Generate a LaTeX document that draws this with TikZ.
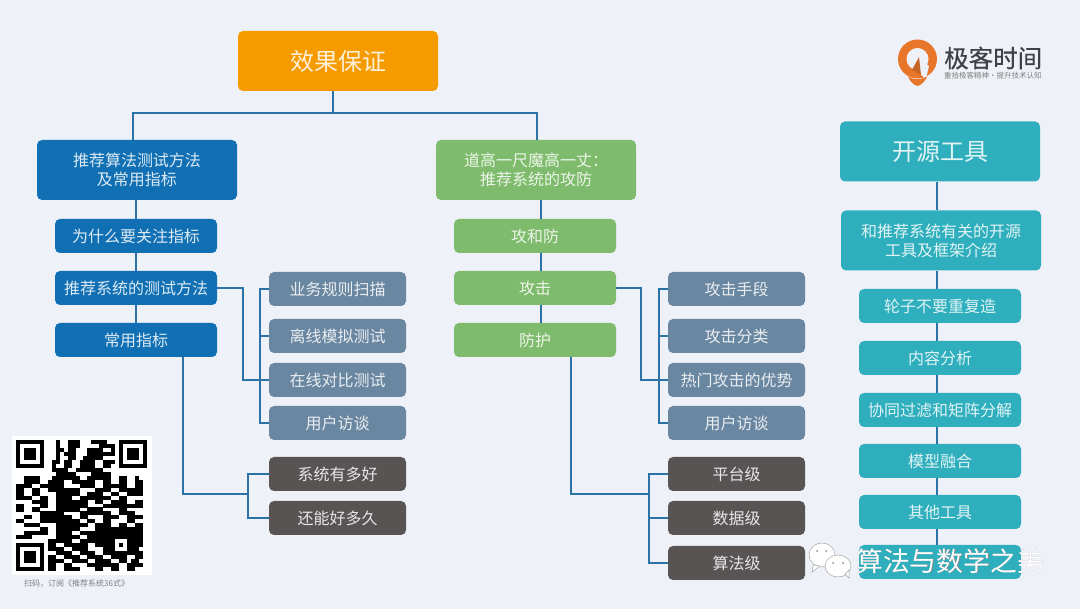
\documentclass[tikz,border=0pt]{standalone}
\usepackage{fontspec}
\setmainfont{Noto Sans CJK SC}
\definecolor{bgc}{HTML}{EEF1F7}
\definecolor{linkc}{HTML}{2B72A6}
\definecolor{orangec}{HTML}{F59B00}
\definecolor{bluec}{HTML}{1170B3}
\definecolor{greenc}{HTML}{7FBB6C}
\definecolor{tealc}{HTML}{2FAFBD}
\definecolor{slatec}{HTML}{6A87A1}
\definecolor{darkc}{HTML}{585454}
\definecolor{logoc}{HTML}{E8762A}
\definecolor{logot}{HTML}{3D4249}
\newcount\qrx
\def\qrscan#1{\ifx#1\relax\else\if#11\fill[black] ({16+3.97*\the\qrx},{440+3.97*\qrrowno}) rectangle ++(4.02,4.02);\fi\advance\qrx by 1 \expandafter\qrscan\fi}
\def\qrr#1#2{\def\qrrowno{#1}\qrx=0 \qrscan#2\relax}
\def\qrfinder#1#2{%
  \fill[white] ({16+3.97*(#1)-3.97},{440+3.97*(#2)-3.97}) rectangle ++(35.73,35.73);
  \fill[black] ({16+3.97*(#1)},{440+3.97*(#2)}) rectangle ++(27.8,27.8);
  \fill[white] ({16+3.97*(#1+1)},{440+3.97*(#2+1)}) rectangle ++(19.85,19.85);
  \fill[black] ({16+3.97*(#1+2)},{440+3.97*(#2+2)}) rectangle ++(11.91,11.91);}
\tikzset{
  boxbase/.style={rounded corners=5pt,inner sep=0pt,align=center,text=white,text opacity=.85},
  bigbox/.style={boxbase,minimum width=200pt,minimum height=60pt},
  midbox/.style={boxbase,minimum width=162pt,minimum height=34pt},
  subbox/.style={boxbase,minimum width=137pt,minimum height=34pt},
  hugetext/.style={font=\fontsize{24}{28}\selectfont},
  normtext/.style={font=\fontsize{16}{19}\selectfont},
  link/.style={draw=linkc,line width=2pt},
}
\begin{document}
\begin{tikzpicture}[x=1pt,y=-1pt]
\useasboundingbox (0,0) rectangle (1080,609);
\fill[bgc] (0,0) rectangle (1080,609);
\coordinate (bus) at (333,113);
\coordinate (busl) at (133,113);
\coordinate (busr) at (537,113);
\coordinate (lx) at (136,0);
\coordinate (gx) at (541,0);
\coordinate (tx) at (937,0);
\coordinate (ltest) at (243,288);
\coordinate (ltrunk) at (260,0);
\coordinate (lmet) at (183,494);
\coordinate (lmtrunk) at (248,0);
\coordinate (gatk) at (641,288);
\coordinate (gtrunk) at (659,0);
\coordinate (gdef) at (571,494);
\coordinate (gdtrunk) at (649,0);

% boxes
\node[bigbox,fill=orangec,hugetext,name=top] at (338,61) {效果保证};
\node[bigbox,fill=bluec,normtext,name=L] at (137,170) {推荐算法测试方法\\及常用指标};
\node[bigbox,fill=greenc,normtext,name=G] at (536,170) {道高一尺魔高一丈：\\推荐系统的攻防};
\node[bigbox,fill=tealc,hugetext,name=T] at (940,151.5) {开源工具};
\node[bigbox,fill=tealc,normtext,minimum width=200pt,name=T1] at (941,240.5) {和推荐系统有关的开源\\工具及框架介绍};

\node[midbox,fill=bluec,normtext,name=L1] at (136,236) {为什么要关注指标};
\node[midbox,fill=bluec,normtext,name=L2] at (136,288) {推荐系统的测试方法};
\node[midbox,fill=bluec,normtext,name=L3] at (136,340) {常用指标};
\node[midbox,fill=greenc,normtext,name=G1] at (535,236) {攻和防};
\node[midbox,fill=greenc,normtext,name=G2] at (535,288) {攻击};
\node[midbox,fill=greenc,normtext,name=G3] at (535,340) {防护};

\node[subbox,fill=slatec,normtext,name=A1] at (337.5,289) {业务规则扫描};
\node[subbox,fill=slatec,normtext,name=A2] at (337.5,336) {离线模拟测试};
\node[subbox,fill=slatec,normtext,name=A3] at (337.5,380) {在线对比测试};
\node[subbox,fill=slatec,normtext,name=A4] at (337.5,423) {用户访谈};
\node[subbox,fill=darkc,normtext,name=D1] at (337.5,474) {系统有多好};
\node[subbox,fill=darkc,normtext,name=D2] at (337.5,518) {还能好多久};

\node[subbox,fill=slatec,normtext,name=B1] at (736.5,289) {攻击手段};
\node[subbox,fill=slatec,normtext,name=B2] at (736.5,336) {攻击分类};
\node[subbox,fill=slatec,normtext,name=B3] at (736.5,380) {热门攻击的优势};
\node[subbox,fill=slatec,normtext,name=B4] at (736.5,423) {用户访谈};
\node[subbox,fill=darkc,normtext,name=E1] at (736.5,474) {平台级};
\node[subbox,fill=darkc,normtext,name=E2] at (736.5,518) {数据级};
\node[subbox,fill=darkc,normtext,name=E3] at (736.5,563) {算法级};

\node[midbox,fill=tealc,normtext,name=T2] at (940,306) {轮子不要重复造};
\node[midbox,fill=tealc,normtext,name=T3] at (940,358) {内容分析};
\node[midbox,fill=tealc,normtext,name=T4] at (940,410) {协同过滤和矩阵分解};
\node[midbox,fill=tealc,normtext,name=T5] at (940,461) {模型融合};
\node[midbox,fill=tealc,normtext,name=T6] at (940,512) {其他工具};
\node[midbox,fill=tealc,normtext,name=T7] at (940,562) {};

% connectors
\draw[link] (top.south -| bus) -- (bus);
\draw[link] (busl |- L.north) -- (busl) -- (busr) -- (busr |- G.north);
\draw[link] (lx |- L.south) -- (lx |- L1.north);
\draw[link] (lx |- L1.south) -- (lx |- L2.north);
\draw[link] (lx |- L2.south) -- (lx |- L3.north);
\draw[link] (gx |- G.south) -- (gx |- G1.north);
\draw[link] (gx |- G1.south) -- (gx |- G2.north);
\draw[link] (gx |- G2.south) -- (gx |- G3.north);
\draw[link] (tx |- T.south) -- (tx |- T1.north);
\draw[link] (tx |- T1.south) -- (tx |- T2.north);
\draw[link] (tx |- T2.south) -- (tx |- T3.north);
\draw[link] (tx |- T3.south) -- (tx |- T4.north);
\draw[link] (tx |- T4.south) -- (tx |- T5.north);
\draw[link] (tx |- T5.south) -- (tx |- T6.north);
\draw[link] (tx |- T6.south) -- (tx |- T7.north);
\draw[link] (L2.east) -- (ltest) -- (ltest |- A3.west) -- (A3.west);
\draw[link] (A1.west) -- (ltrunk |- A1.west) -- (ltrunk |- A4.west) -- (A4.west);
\draw[link] (A2.west) -- (ltrunk |- A2.west);
\draw[link] (lmet |- L3.south) -- (lmet) -- (lmtrunk |- lmet);
\draw[link] (D1.west) -- (lmtrunk |- D1.west) -- (lmtrunk |- D2.west) -- (D2.west);
\draw[link] (G2.east) -- (gatk) -- (gatk |- B3.west) -- (B3.west);
\draw[link] (B1.west) -- (gtrunk |- B1.west) -- (gtrunk |- B4.west) -- (B4.west);
\draw[link] (B2.west) -- (gtrunk |- B2.west);
\draw[link] (gdef |- G3.south) -- (gdef) -- (gdtrunk |- gdef);
\draw[link] (E1.west) -- (gdtrunk |- E1.west) -- (gdtrunk |- E3.west) -- (E3.west);
\draw[link] (E2.west) -- (gdtrunk |- E2.west);

% QR code
\fill[white] (12,436) rectangle (152,575);
\qrr{0}{000000000010011100011110000000000}
\qrr{1}{000000000010011100000111100000000}
\qrr{2}{000000000011011000111100110000000}
\qrr{3}{000000000010111000111111110000000}
\qrr{4}{000000000010011001111100000000000}
\qrr{5}{000000000110110011110011110000000}
\qrr{6}{000000000100110011110011000000000}
\qrr{7}{000000000111100111111100000000000}
\qrr{8}{000000000011111000011111000000000}
\qrr{9}{001111000111111100111111001100100}
\qrr{10}{001111001111001111110011001100110}
\qrr{11}{111100111111000011110011111100110}
\qrr{12}{110011001111111100001111001111110}
\qrr{13}{110011000011111100111100110011110}
\qrr{14}{111100110011110011111111001100000}
\qrr{15}{000011110011111111001100111100110}
\qrr{16}{110000110011111111000011111111110}
\qrr{17}{110011000011111100111100001100000}
\qrr{18}{000000111111000011111111001111000}
\qrr{19}{001100111111110011000011110011110}
\qrr{20}{110000111111111100110011000011000}
\qrr{21}{001111000011111111001111001100110}
\qrr{22}{000000110011111100001111111111110}
\qrr{23}{001111110011110011111111111111110}
\qrr{24}{111100000011111100111111111111110}
\qrr{25}{000000001111110011111111110111110}
\qrr{26}{000000001100111111001111110011110}
\qrr{27}{000000001111001111000011111111100}
\qrr{28}{000000000011110011110011111111110}
\qrr{29}{000000001100111100111100111100110}
\qrr{30}{000000001111001111001111001101100}
\qrr{31}{000000001100110000111111110011110}
\qrr{32}{000000001100111100001100110011000}
\qrfinder{0}{0}
\qrfinder{26}{0}
\qrfinder{0}{26}
\fill[black] ({16+3.97*24},{440+3.97*24}) rectangle ++(19.85,19.85);
\fill[white] ({16+3.97*25},{440+3.97*25}) rectangle ++(11.91,11.91);
\fill[black] ({16+3.97*26},{440+3.97*26}) rectangle ++(3.97,3.97);
\node[name=cap,inner sep=0pt,text=black!50,font=\fontsize{8}{10}\selectfont,anchor=west] at (24,584) {扫码，订阅《推荐系统36式》};

% logo
\fill[logoc] (917.5,59) circle (19.5);
\fill[bgc] (917.5,59) circle (11);
\fill[bgc] (919,58) -- (929,66) -- (926,79) -- (919,73) -- cycle;
\fill[logoc!85!black] (919,57) -- (912,70) -- (921,75) -- cycle;
\fill[logoc] (908,76.5) .. controls (913,80) and (922,80) .. (927,76.5) .. controls (925,82) and (921,85) .. (917.5,86) .. controls (914,85) and (910,82) .. (908,76.5) -- cycle;
\node[name=logotxt,inner sep=0pt,text=logot,font=\fontsize{24.5}{26}\selectfont\addfontfeature{FakeBold=0.4},anchor=west] at (944,58) {极客时间};
\node[name=logosub,inner sep=0pt,text=black!50,font=\fontsize{7.5}{9}\selectfont,anchor=west] at (944,76) {重拾极客精神·提升技术认知};

% watermark
\fill[white,draw=black!35,line width=.5pt] (822,555) ellipse (13 and 12);
\fill[white,draw=black!35,line width=.5pt] (813,565) -- (812,572) -- (820,566) -- cycle;
\fill[black!45] (817,551) circle (1) (826,551) circle (1);
\fill[white,draw=black!35,line width=.5pt] (838,566) ellipse (13 and 11);
\fill[white,draw=black!35,line width=.5pt] (845,574) -- (849,578) -- (849,570) -- cycle;
\fill[black!45] (833,563) circle (1) (843,563) circle (1);
\node[name=wms,inner sep=0pt,text=black!45,font=\fontsize{26.8}{30}\selectfont,anchor=west] at (856.7,561.7) {算法与数学之美};
\node[name=wm,inner sep=0pt,text=white,font=\fontsize{26.8}{30}\selectfont,anchor=west] at (856,561) {算法与数学之美};
\end{tikzpicture}
\end{document}
